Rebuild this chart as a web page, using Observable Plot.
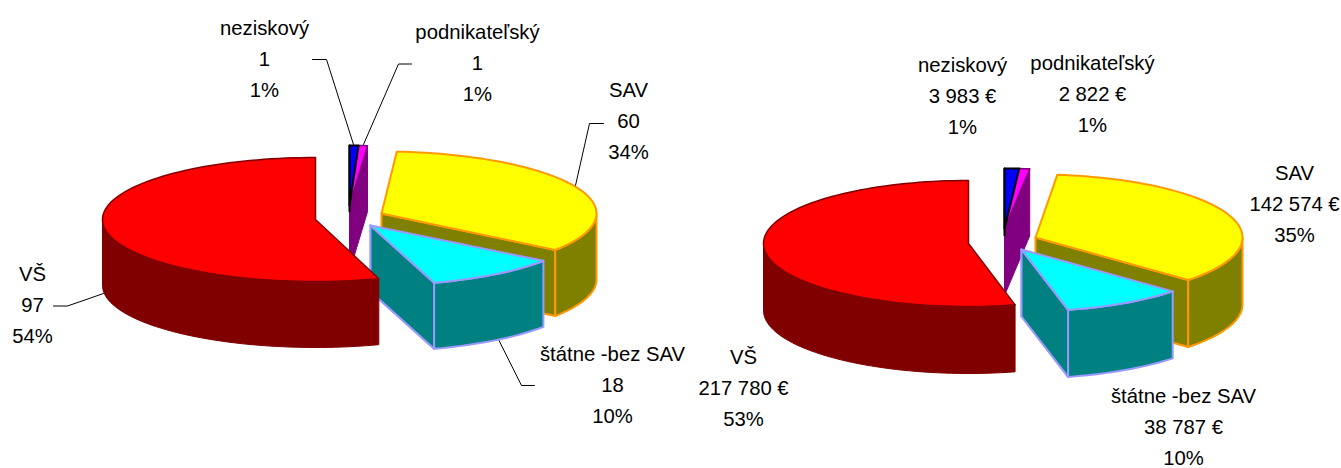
<!DOCTYPE html>
<html><head><meta charset="utf-8">
<script src="https://cdn.jsdelivr.net/npm/d3@7"></script>
<script src="https://cdn.jsdelivr.net/npm/@observablehq/plot@0.6"></script>
<style>html,body{margin:0;padding:0;background:#fff}svg{display:block}</style>
</head><body><div id="chart"></div>
<script>
const categories = ["neziskový", "podnikateľský", "SAV", "štátne -bez SAV", "VŠ"];
const countValues = [1, 1, 60, 18, 97];
const countLabels = ["1", "1", "60", "18", "97"];
const countPercents = ["1%", "1%", "34%", "10%", "54%"];
const euroValues = [3983, 2822, 142574, 38787, 217780];
const euroLabels = ["3 983 €", "2 822 €", "142 574 €", "38 787 €", "217 780 €"];
const euroPercents = ["1%", "1%", "35%", "10%", "53%"];

const topColors = ["#0000ff", "#ff00ff", "#ffff00", "#00ffff", "#ff0000"];
const sideColors = ["#000080", "#800080", "#808000", "#008080", "#800000"];
const edgeColors = ["#000000", "#800080", "#ff9900", "#9999ff", "#800000"];

// layout of each pie: exploded slice centres [x, y], radii [rx, ry], depth
const leftPie = {
  values: countValues, depth: 66,
  centers: [[349, 205], [349, 205], [381, 213], [370, 225], [315, 219]],
  radii: [[254, 60], [254, 60], [215, 62], [214, 60], [213, 62]]
};
const rightPie = {
  values: euroValues, depth: 67,
  centers: [[1004, 228], [1004, 228], [1035, 237], [1021, 249], [968, 243]],
  radii: [[240, 60], [240, 60], [207, 63], [205, 62], [205, 63]]
};

function sliceAngles(values) {
  const total = d3.sum(values);
  let a = 0;
  return values.map(v => { const s = a; a += v / total * 360; return [s, a]; });
}
function arcPoints(c, r, a0, a1) {
  const n = Math.max(1, Math.ceil(Math.abs(a1 - a0) / 2)), out = [];
  for (let i = 0; i <= n; i++) {
    const t = (a0 + (a1 - a0) * i / n) * Math.PI / 180;
    out.push({x: c[0] + r[0] * Math.sin(t), y: c[1] - r[1] * Math.cos(t)});
  }
  return out;
}
const drop = (pts, d) => pts.map(p => ({x: p.x, y: p.y + d}));
const closed = pts => [...pts, pts[0]];
function poly(pts, fill, stroke, strokeWidth = 1.5) {
  return Plot.line(closed(pts), {x: "x", y: "y", fill, stroke, strokeWidth, curve: "linear"});
}

function pieMarks(pie) {
  const ang = sliceAngles(pie.values), marks = [], d = pie.depth;
  const top = i => arcPoints(pie.centers[i], pie.radii[i], ang[i][0], ang[i][1]);
  const apex = i => ({x: pie.centers[i][0], y: pie.centers[i][1]});
  const radialFace = (i, a) => {
    const o = arcPoints(pie.centers[i], pie.radii[i], a, a)[0], c = apex(i);
    return [c, o, {x: o.x, y: o.y + d}, {x: c.x, y: c.y + d}];
  };
  const wall = i => {
    const lo = Math.max(ang[i][0], 90), hi = Math.min(ang[i][1], 270);
    const arc = arcPoints(pie.centers[i], pie.radii[i], lo, hi);
    return [...arc, ...drop(arc, d).reverse()];
  };
  // slivers at the back
  marks.push(poly(radialFace(1, ang[1][1]), sideColors[1], "#800080", 1));
  const blueEdge = radialFace(0, 0);
  marks.push(Plot.line([blueEdge[1], blueEdge[2]], {x: "x", y: "y", stroke: "#000", strokeWidth: 2}));
  marks.push(poly([apex(1), ...top(1)], topColors[1], edgeColors[1]));
  marks.push(poly([apex(0), ...top(0)], topColors[0], edgeColors[0], 2));
  // SAV, then state slice, then VŠ in front
  for (const i of [2, 3]) {
    marks.push(poly(radialFace(i, ang[i][1]), sideColors[i], edgeColors[i], 2));
    marks.push(poly(wall(i), sideColors[i], edgeColors[i], 2));
    if (i === 3) marks.push(poly(radialFace(i, ang[i][1]), sideColors[i], edgeColors[i], 2));
    marks.push(poly([apex(i), ...top(i)], topColors[i], edgeColors[i], 2));
  }
  marks.push(poly(wall(4), sideColors[4], edgeColors[4], 1));
  marks.push(poly([apex(4), ...top(4)], topColors[4], edgeColors[4], 1.5));
  return marks;
}

const leaderLines = [
  [[312, 59], [326, 59], [353, 144]],
  [[411, 63.5], [398, 63.5], [363, 144]],
  [[603, 123], [589, 123], [575, 185]],
  [[53, 305.5], [67, 305.5], [103, 293]],
  [[497, 337], [521, 385], [534, 385]]
];
const leaderMarks = leaderLines.map(l => Plot.line(l, {x: d => d[0], y: d => d[1], stroke: "#000", strokeWidth: 1}));

// label anchors (centre x, middle-line y), same order as categories
const leftLabelPos = [[264, 56], [477, 60], [628, 118], [612, 382], [32, 302]];
const rightLabelPos = [[962, 93], [1092, 91], [1294, 201], [1183, 424], [743, 385]];
const labelRows = [
  ...categories.map((c, i) => ({t: `${c}\n${countLabels[i]}\n${countPercents[i]}`, p: leftLabelPos[i]})),
  ...categories.map((c, i) => ({t: `${c}\n${euroLabels[i]}\n${euroPercents[i]}`, p: rightLabelPos[i]}))
];

const chart = Plot.plot({
  width: 1341, height: 468,
  margin: 0,
  x: {domain: [0, 1341], range: [0, 1341], axis: null},
  y: {domain: [0, 468], range: [0, 468], axis: null},
  style: {background: "#fff", fontFamily: "'Liberation Sans', Arial, sans-serif"},
  marks: [
    ...leaderMarks,
    ...pieMarks(leftPie),
    ...pieMarks(rightPie),
    Plot.text(labelRows, {
      x: d => d.p[0], y: d => d.p[1], text: "t",
      fontSize: 20.3, lineHeight: 1.53, fill: "#000", textAnchor: "middle"
    })
  ]
});
document.getElementById("chart").append(chart);
</script></body></html>
